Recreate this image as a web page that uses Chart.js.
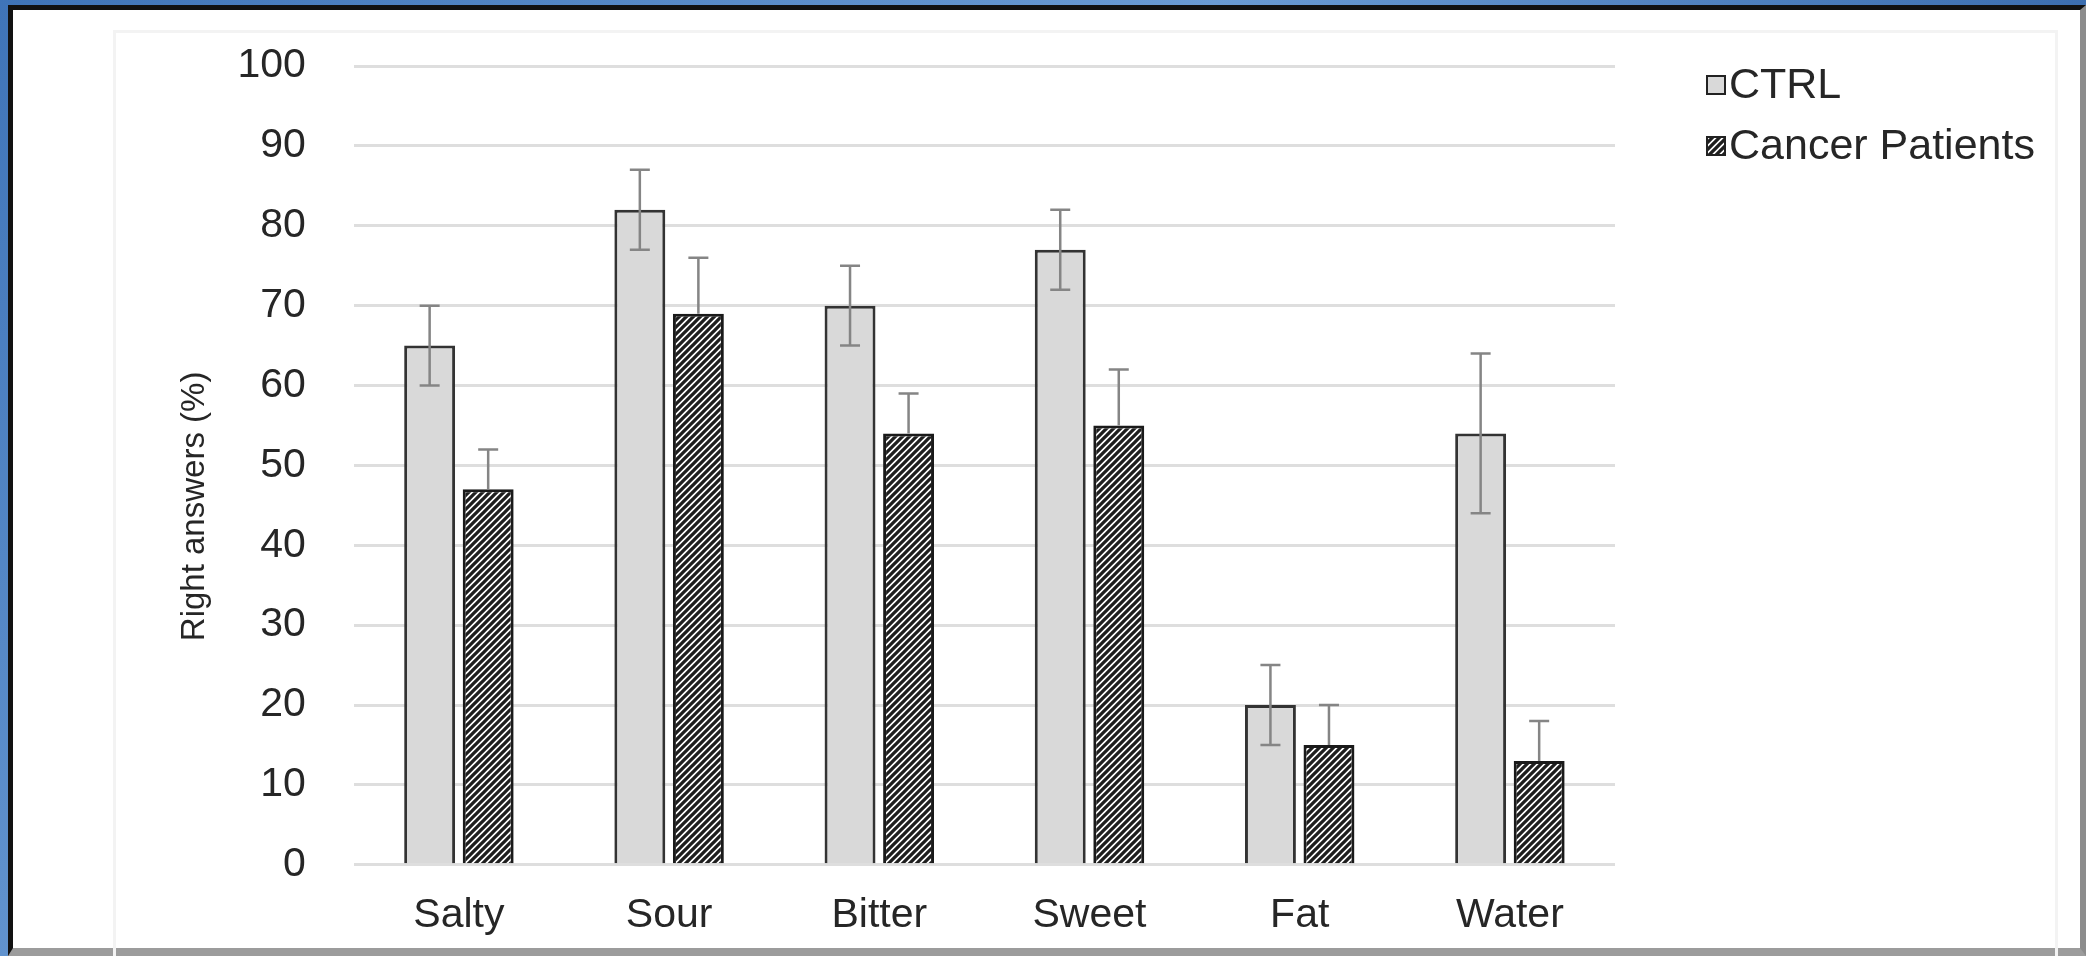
<!DOCTYPE html>
<html>
<head>
<meta charset="utf-8">
<title>Right answers</title>
<script src="https://cdn.jsdelivr.net/npm/chart.js@4.4.0/dist/chart.umd.min.js"></script>
<style>
  html, body { margin: 0; padding: 0; }
  body {
    width: 2086px; height: 956px; position: relative; overflow: hidden;
    background: linear-gradient(135deg, #3f74b8 0%, #6a9bd4 40%, #3a6cae 70%, #5d8fcb 100%);
  }
  #panel {
    position: absolute; left: 8px; top: 5px; width: 2078px; height: 951px;
    box-sizing: border-box; background: #fff;
    border-left: 5px solid #111; border-top: 5px solid #111;
    border-right: 6px solid #8c8c8c; border-bottom: 8px solid #9c9c9c;
  }
  #inner {
    position: absolute; left: 100px; top: 20px; right: 22px; bottom: -8px;
    border: 3px solid #f3f3f3; border-bottom: none;
  }
  #wrap { position: absolute; left: 13px; top: 10px; width: 2067px; height: 938px; }
</style>
</head>
<body>
<div id="panel"><div id="inner"></div></div>
<div id="wrap"><canvas id="chart"></canvas></div>
<script>
// data
const categories = ["Salty", "Sour", "Bitter", "Sweet", "Fat", "Water"];
const ctrlValues = [65, 82, 70, 77, 20, 54];
const ctrlErrors = [5, 5, 5, 5, 5, 10];
const cancerValues = [47, 69, 54, 55, 15, 13];
const cancerErrors = [5, 7, 5, 7, 5, 5];
const yMin = 0, yMax = 100, yStep = 10;
const yTitle = "Right answers (%)";

const FONT = "'Liberation Sans', Arial, sans-serif";
const TEXT = "#262626";

const canvas = document.getElementById("chart");

// diagonal hatch for the patients series
function makeHatch() {
  const c = document.createElement("canvas");
  c.width = 7; c.height = 7;
  const g = c.getContext("2d");
  g.fillStyle = "#fff";
  g.fillRect(0, 0, 7, 7);
  g.strokeStyle = "#1e1e1e";
  g.lineWidth = 3.3;
  g.beginPath();
  g.moveTo(-1, 8); g.lineTo(8, -1);
  g.moveTo(-2, 2); g.lineTo(2, -2);
  g.moveTo(5, 9); g.lineTo(9, 5);
  g.stroke();
  return canvas.getContext("2d").createPattern(c, "repeat");
}
const hatch = makeHatch();

// -------------------------
// Error bars (drawn over the bars)
// -------------------------
const errorBars = {
  id: "errorBars",
  afterDatasetsDraw(chart) {
    const ctx = chart.ctx;
    const y = chart.scales.y;
    chart.data.datasets.forEach((ds, i) => {
      const meta = chart.getDatasetMeta(i);
      meta.data.forEach((bar, j) => {
        const v = ds.data[j], e = ds.errors[j];
        const top = y.getPixelForValue(v + e);
        const bottom = ds.bothWays ? y.getPixelForValue(v - e) : bar.y;
        ctx.save();
        ctx.strokeStyle = "#858585";
        ctx.lineWidth = 2.5;
        ctx.beginPath();
        ctx.moveTo(bar.x, top); ctx.lineTo(bar.x, bottom);
        ctx.moveTo(bar.x - 10, top); ctx.lineTo(bar.x + 10, top);
        if (ds.bothWays) { ctx.moveTo(bar.x - 10, bottom); ctx.lineTo(bar.x + 10, bottom); }
        ctx.stroke();
        ctx.restore();
      });
    });
  }
};

// -------------------------
// Y title, sitting a bit below the middle like the original
// -------------------------
const yTitlePlugin = {
  id: "yTitlePlugin",
  afterDraw(chart) {
    const ctx = chart.ctx;
    const area = chart.chartArea;
    const sc = chart.scales.y;
    ctx.save();
    ctx.translate(sc.left + 19, (area.top + area.bottom) / 2 + 41);
    ctx.rotate(-Math.PI / 2);
    ctx.fillStyle = TEXT;
    ctx.font = "33px " + FONT;
    ctx.textAlign = "center";
    ctx.textBaseline = "middle";
    ctx.fillText(yTitle, 0, 0);
    ctx.restore();
  }
};

// -------------------------
// Legend on the right, top aligned
// -------------------------
const sideLegend = {
  id: "sideLegend",
  afterDraw(chart) {
    const ctx = chart.ctx;
    const area = chart.chartArea;
    const x = area.right + 92;
    chart.data.datasets.forEach((ds, i) => {
      const cy = area.top + 19 + i * 61;
      ctx.save();
      ctx.fillStyle = ds.backgroundColor;
      ctx.fillRect(x, cy - 9, 18, 18);
      ctx.strokeStyle = "#222";
      ctx.lineWidth = 2;
      ctx.strokeRect(x, cy - 9, 18, 18);
      ctx.fillStyle = TEXT;
      ctx.font = "43px " + FONT;
      ctx.textBaseline = "middle";
      ctx.fillText(ds.label, x + 22, cy + 1);
      ctx.restore();
    });
  }
};

new Chart(canvas, {
  type: "bar",
  data: {
    labels: categories,
    datasets: [
      {
        label: "CTRL",
        data: ctrlValues,
        errors: ctrlErrors,
        bothWays: true,
        backgroundColor: "#d9d9d9",
        borderColor: "#333333",
        borderWidth: 3
      },
      {
        label: "Cancer Patients",
        data: cancerValues,
        errors: cancerErrors,
        bothWays: false,
        backgroundColor: hatch,
        borderColor: "#1a1a1a",
        borderWidth: 3
      }
    ]
  },
  options: {
    responsive: true,
    maintainAspectRatio: false,
    animation: false,
    categoryPercentage: 0.557,
    barPercentage: 0.87,
    layout: { padding: { left: 163, right: 465, top: 56, bottom: 8 } },
    plugins: {
      legend: { display: false },
      tooltip: { enabled: false }
    },
    scales: {
      x: {
        grid: { display: false, drawTicks: true, tickLength: 26 },
        border: { display: false },
        ticks: { color: TEXT, font: { family: FONT, size: 41 }, padding: 0 }
      },
      y: {
        min: yMin,
        max: yMax,
        grid: { color: "#dedede", lineWidth: 3, drawTicks: true, tickLength: 48, tickColor: "rgba(0,0,0,0)" },
        border: { display: false },
        ticks: { stepSize: yStep, color: TEXT, font: { family: FONT, size: 41 }, padding: 0 },
        title: {
          display: true,
          text: yTitle,
          color: "rgba(0,0,0,0)",
          font: { family: FONT, size: 32 },
          padding: { top: 0, bottom: 23 }
        }
      }
    }
  },
  plugins: [errorBars, yTitlePlugin, sideLegend]
});
</script>
</body>
</html>
